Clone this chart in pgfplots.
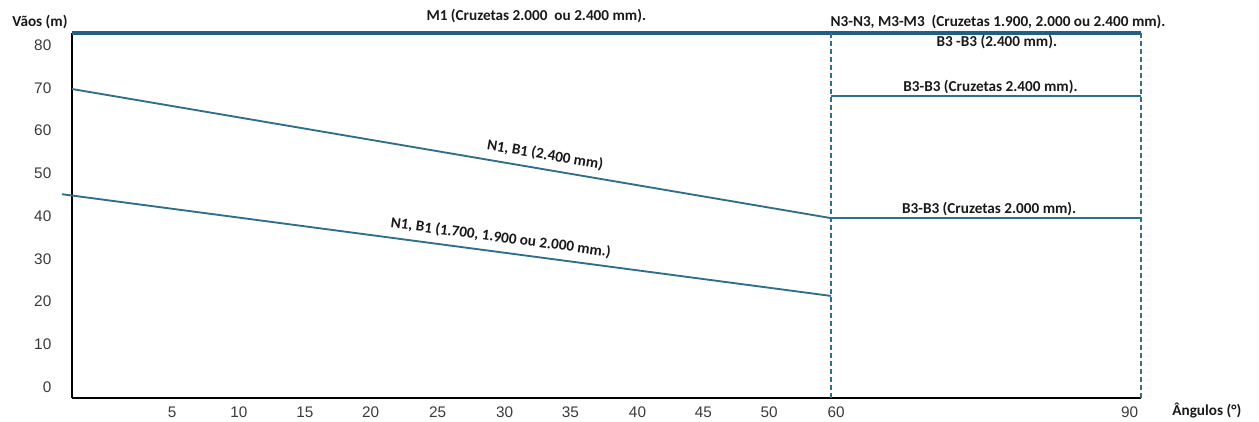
\documentclass[border=0pt]{standalone}
\usepackage{fontspec}
\usepackage{pgfplots}
\pgfplotsset{compat=1.18}
\setmainfont{Carlito}
\newfontfamily\tickfont{Liberation Sans}
\definecolor{lineblue}{HTML}{2F6E8C}
\definecolor{topblue}{HTML}{215F84}
\definecolor{tickgray}{HTML}{3A3A3A}
\tikzset{lab/.style={font=\bfseries\fontsize{11.4}{13}\selectfont, text=black!90, inner sep=1pt}}
\begin{document}
\begin{tikzpicture}
\begin{axis}[
  scale only axis,
  width=801.75pt, height=273.75pt,
  xmin=0, xmax=84.5, ymin=-2.57, ymax=82.8,
  clip=false,
  axis x line*=bottom, axis y line*=left,
  axis line style={-, line width=2pt, black},
  major tick length=0pt,
  xtick={7.91,13.2,18.4,23.6,28.9,34.2,39.4,44.7,49.9,55.1,60.4,83.6},
  xticklabels={5,10,15,20,25,30,35,40,45,50,60,90},
  ytick={0,10,20,30,40,50,60,70,80},
  /pgf/number format/assume math mode=true,
  ticklabel style={font=\tickfont\fontsize{11.5}{13}\selectfont, text=tickgray},
  xticklabel style={yshift=-3pt},
  yticklabel style={xshift=-12pt},
]
% M1 top line
\addplot[topblue, line width=2.4pt] coordinates {(0,82.8) (84.5,82.8)};
% dashed boundaries
\addplot[lineblue, line width=1.3pt, dash pattern=on 4pt off 2pt] coordinates {(60,-2.57) (60,82.8)};
\addplot[lineblue, line width=1.3pt, dash pattern=on 4pt off 2pt] coordinates {(84.5,-2.57) (84.5,82.8)};
% N1, B1 2.400
\addplot[lineblue, line width=1.4pt] coordinates {(0,69.7) (60,39.5)};
% N1, B1 1.700...
\addplot[lineblue, line width=1.4pt] coordinates {(-0.8,45.1) (60,21.3)};
% B3-B3 2.400
\addplot[lineblue, line width=1.4pt] coordinates {(60,68.1) (84.5,68.1)};
% B3-B3 2.000
\addplot[lineblue, line width=1.4pt] coordinates {(60,39.5) (84.5,39.5)};

\node[lab] at (axis cs:36.7,86.8) {M1 (Cruzetas 2.000\ \ ou 2.400 mm).};
\node[lab] at (axis cs:73.2,85.4) {N3-N3, M3-M3\ \ (Cruzetas 1.900, 2.000 ou 2.400 mm).};
\node[lab] at (axis cs:73.1,80.7) {B3 -B3 (2.400 mm).};
\node[lab] at (axis cs:72.6,70.2) {B3-B3 (Cruzetas 2.400 mm).};
\node[lab] at (axis cs:72.5,41.6) {B3-B3 (Cruzetas 2.000 mm).};
\node[lab, rotate=-9.6] at (axis cs:37.4,54.3) {N1, B1 (2.400 mm)};
\node[lab, rotate=-7.6] at (axis cs:33.9,34.9) {N1, B1 (1.700, 1.900 ou 2.000 mm.)};
\node[lab] at (axis cs:-2.53,85.4) {Vãos (m)};
\node[lab] at (axis cs:89.7,-5.6) {Ângulos (°)};

\coordinate (SW) at (rel axis cs:0,0);
\end{axis}
\pgfresetboundingbox
\path ([shift={(-54pt,-17.25pt)}]SW) rectangle ([shift={(890.25pt,298.5pt)}]SW);
\end{tikzpicture}
\end{document}
